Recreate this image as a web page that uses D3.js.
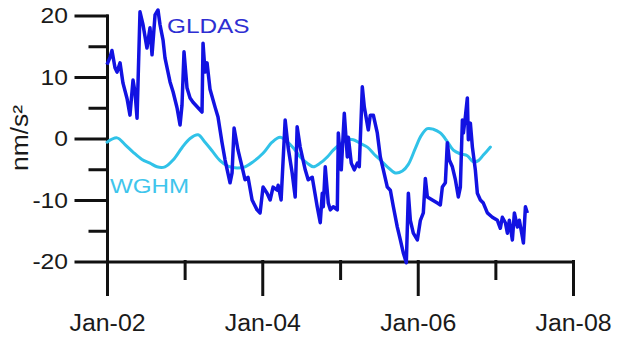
<!DOCTYPE html>
<html>
<head>
<meta charset="utf-8">
<script src="https://cdn.jsdelivr.net/npm/d3@7"></script>
<style>
  html, body { margin: 0; padding: 0; background: #fff; }
  svg { display: block; }
  text { font-family: "Liberation Sans", Arial, sans-serif; }
</style>
</head>
<body>
<svg id="chart" width="622" height="338"></svg>
<script>
// GLDAS gravity residual (decimal year, nm/s²)
const gldasYear = [
  2002.000, 2002.039, 2002.064, 2002.103, 2002.129, 2002.168, 2002.206, 2002.258, 2002.296, 2002.335,
  2002.361, 2002.387, 2002.425, 2002.464, 2002.515, 2002.554, 2002.580, 2002.619, 2002.657, 2002.683,
  2002.722, 2002.747, 2002.812, 2002.851, 2002.902, 2002.941, 2002.966, 2002.992, 2003.031, 2003.070,
  2003.108, 2003.173, 2003.224, 2003.237, 2003.263, 2003.289, 2003.327, 2003.392, 2003.430, 2003.482,
  2003.521, 2003.585, 2003.611, 2003.637, 2003.688, 2003.740, 2003.778, 2003.817, 2003.869, 2003.933,
  2003.972, 2004.010, 2004.062, 2004.101, 2004.139, 2004.191, 2004.204, 2004.242, 2004.294, 2004.332,
  2004.384, 2004.423, 2004.448, 2004.487, 2004.552, 2004.590, 2004.642, 2004.706, 2004.745, 2004.771,
  2004.784, 2004.809, 2004.848, 2004.874, 2004.912, 2004.964, 2004.977, 2005.015, 2005.054, 2005.093,
  2005.106, 2005.144, 2005.183, 2005.222, 2005.247, 2005.286, 2005.312, 2005.363, 2005.389, 2005.428,
  2005.479, 2005.518, 2005.557, 2005.608, 2005.647, 2005.686, 2005.737, 2005.776, 2005.814, 2005.853,
  2005.879, 2005.905, 2005.943, 2005.995, 2006.034, 2006.072, 2006.098, 2006.124, 2006.188, 2006.253,
  2006.291, 2006.317, 2006.356, 2006.381, 2006.407, 2006.446, 2006.485, 2006.523, 2006.549, 2006.575,
  2006.588, 2006.613, 2006.639, 2006.652, 2006.678, 2006.704, 2006.742, 2006.768, 2006.807, 2006.845,
  2006.897, 2006.961, 2007.026, 2007.064, 2007.090, 2007.129, 2007.155, 2007.180, 2007.219, 2007.245,
  2007.284, 2007.309, 2007.348, 2007.361, 2007.387, 2007.412
];
const gldasValue = [
  12.0, 13.2, 14.3, 11.5, 10.8, 12.3, 9.0, 6.5, 3.8, 9.5,
  7.5, 3.3, 20.6, 18.5, 14.7, 18.0, 13.6, 20.1, 20.9, 18.5,
  16.0, 13.1, 9.2, 7.6, 5.0, 2.2, 5.4, 14.1, 8.2, 6.6,
  5.9, 5.0, 4.3, 15.5, 10.8, 12.3, 8.0, 5.1, 3.5, -0.7,
  -3.5, -7.2, -5.6, 1.7, -1.9, -4.6, -6.7, -6.3, -10.0, -11.6,
  -12.1, -7.9, -8.9, -10.0, -7.9, -8.4, -7.6, -10.0, 3.0, -1.4,
  -5.6, -9.5, 1.9, -1.4, -5.1, -6.7, -6.3, -11.1, -13.7, -8.9,
  -11.1, -4.6, -10.5, -11.6, -11.1, -11.6, 0.9, -5.1, 4.1, -3.0,
  0.2, -4.0, -5.1, -4.0, -4.6, 8.4, 5.1, 1.4, 3.8, 3.8,
  0.9, -3.0, -5.1, -7.9, -8.4, -11.1, -14.4, -16.5, -18.6, -20.2,
  -8.9, -13.3, -15.4, -16.5, -13.3, -12.1, -6.5, -9.5, -10.0, -10.5,
  -10.8, -7.9, -7.2, -0.7, -3.5, -4.6, -6.7, -9.5, -7.9, 3.0,
  0.9, 3.5, 6.6, -0.2, 2.5, -1.4, -5.1, -8.9, -10.0, -10.5,
  -12.1, -12.8, -13.3, -14.6, -12.8, -13.7, -15.4, -13.3, -16.5, -12.1,
  -14.4, -13.3, -16.0, -17.0, -11.1, -12.1
];

// WGHM gravity residual (decimal year, nm/s²)
const wghmYear = [
  2002.000, 2002.129, 2002.232, 2002.335, 2002.451, 2002.554, 2002.644, 2002.747, 2002.851, 2002.966,
  2003.070, 2003.173, 2003.263, 2003.353, 2003.456, 2003.559, 2003.675, 2003.778, 2003.881, 2004.010,
  2004.126, 2004.229, 2004.320, 2004.397, 2004.487, 2004.577, 2004.655, 2004.745, 2004.835, 2004.912,
  2005.003, 2005.093, 2005.170, 2005.260, 2005.351, 2005.441, 2005.518, 2005.608, 2005.711, 2005.802,
  2005.879, 2005.969, 2006.046, 2006.124, 2006.201, 2006.291, 2006.381, 2006.459, 2006.549, 2006.639,
  2006.716, 2006.781, 2006.845, 2006.936
];
const wghmValue = [
  -0.6, 0.1, -1.0, -2.2, -3.4, -4.0, -4.6, -4.6, -3.5, -1.5,
  0.0, 0.6, -0.6, -2.0, -3.6, -4.5, -4.8, -4.6, -3.8, -2.4,
  -0.6, 0.2, -0.5, -1.5, -3.0, -4.0, -4.6, -4.0, -3.0, -1.9,
  -0.9, -0.2, -0.2, -0.8, -1.4, -2.6, -3.5, -4.6, -5.6, -5.3,
  -4.2, -1.6, 0.5, 1.6, 1.5, 0.9, -0.5, -1.9, -2.5, -2.8,
  -3.8, -3.6, -2.7, -1.4
];

// Axis ticks
const yearTicks = [2002, 2003, 2004, 2005, 2006, 2007, 2008];
const yMajorTicks = [-20, -10, 0, 10, 20];
const yMinorTicks = [-15, -5, 5, 15];
const seriesNames = ["GLDAS", "WGHM"];
const yTitle = "nm/s²";

const colors = { gldas: "#1212e2", gldasText: "#2e2ed2", wghm: "#30c2e8", wghmText: "#3fc5ec" };

// decimal year -> Date
function toDate(y) {
  const yr = Math.floor(y);
  const start = new Date(yr, 0, 1), end = new Date(yr + 1, 0, 1);
  return new Date(+start + (y - yr) * (end - start));
}

const svg = d3.select("#chart");

const x = d3.scaleTime()
  .domain([new Date(2002, 0, 1), new Date(2008, 0, 1)])
  .range([107, 573]);
const y = d3.scaleLinear().domain([-20, 20]).range([261.5, 15.5]);

// stretch text horizontally to a wider look
function stretch(sel, k) {
  sel.each(function () {
    const len = this.getComputedTextLength();
    d3.select(this).attr("textLength", len * k).attr("lengthAdjust", "spacingAndGlyphs");
  });
}

const axisStroke = 3;

// y axis: minor ticks
const gyMinor = svg.append("g").attr("transform", "translate(107,0)")
  .call(d3.axisLeft(y).tickValues(yMinorTicks).tickSize(17).tickSizeOuter(0).tickFormat(""));
gyMinor.select(".domain").remove();

// y axis: major ticks with labels (plain hyphen for negatives)
const gy = svg.append("g").attr("transform", "translate(107,0)")
  .call(d3.axisLeft(y).tickValues(yMajorTicks).tickSize(31).tickSizeOuter(0).tickPadding(8)
    .tickFormat(d => String(d)));

// x axis: minor ticks (odd years)
const gxMinor = svg.append("g").attr("transform", `translate(0,${y(-20)})`)
  .call(d3.axisBottom(x).tickValues(yearTicks.filter(d => d % 2).map(d => new Date(d, 0, 1)))
    .tickSize(17).tickSizeOuter(0).tickFormat(""));
gxMinor.select(".domain").remove();

// x axis: major ticks (even years) with labels
const gx = svg.append("g").attr("transform", `translate(0,${y(-20)})`)
  .call(d3.axisBottom(x).tickValues(yearTicks.filter(d => d % 2 === 0).map(d => new Date(d, 0, 1)))
    .tickSize(33).tickSizeOuter(0).tickPadding(20).tickFormat(d3.timeFormat("%b-%y")));

svg.selectAll(".domain, .tick line")
  .attr("stroke", "#111").attr("stroke-width", axisStroke).attr("stroke-linecap", "square");

gy.selectAll(".tick text").attr("font-size", 22).attr("fill", "#1a1a1a")
  .attr("font-family", "Liberation Sans, Arial, sans-serif").call(stretch, 1.12);
gx.selectAll(".tick text").attr("font-size", 23.5).attr("fill", "#1a1a1a")
  .attr("font-family", "Liberation Sans, Arial, sans-serif").call(stretch, 1.06);

// y title
svg.append("text")
  .attr("transform", "translate(28,138) rotate(-90)")
  .attr("text-anchor", "middle")
  .attr("font-size", 23).attr("fill", "#1a1a1a")
  .text(yTitle).call(stretch, 1.15);

// series lines
const line = d3.line().x(d => x(toDate(d[0]))).y(d => y(d[1]));

svg.append("path")
  .datum(d3.zip(wghmYear, wghmValue))
  .attr("fill", "none").attr("stroke", colors.wghm).attr("stroke-width", 3)
  .attr("stroke-linejoin", "round").attr("stroke-linecap", "round")
  .attr("d", line.curve(d3.curveCatmullRom));

svg.append("path")
  .datum(d3.zip(gldasYear, gldasValue))
  .attr("fill", "none").attr("stroke", colors.gldas).attr("stroke-width", 3.5)
  .attr("stroke-linejoin", "round")
  .attr("d", line.curve(d3.curveLinear));

// series labels
svg.append("text").attr("x", 167).attr("y", 33)
  .attr("font-size", 21).attr("fill", colors.gldasText)
  .text(seriesNames[0]).call(stretch, 1.16);

svg.append("text").attr("x", 110).attr("y", 193)
  .attr("font-size", 21).attr("fill", colors.wghmText)
  .text(seriesNames[1]).call(stretch, 1.15);
</script>
</body>
</html>
